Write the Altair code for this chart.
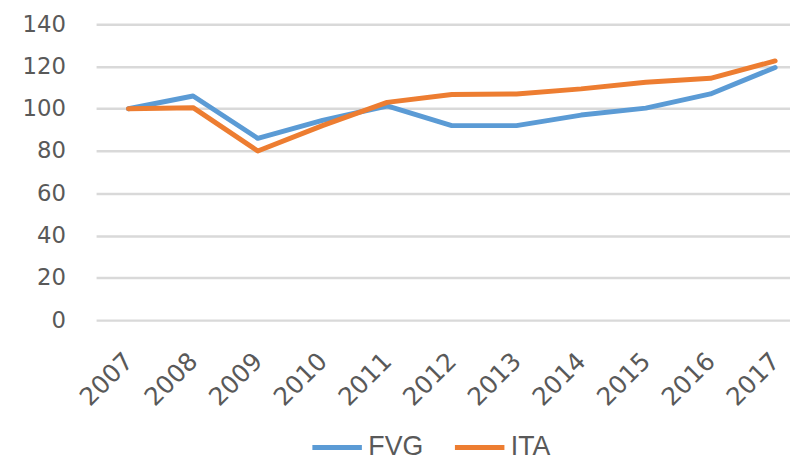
import altair as alt
import pandas as pd

years = [2007, 2008, 2009, 2010, 2011, 2012, 2013, 2014, 2015, 2016, 2017]
fvg = [100, 106, 86, 94.5, 101.3, 92, 92, 97, 100.3, 107, 119.5]
ita = [100, 100.5, 80, 92, 103, 106.7, 107, 109.4, 112.5, 114.4, 122.6]
series_names = ["FVG", "ITA"]
series_colors = ["#5B9BD5", "#ED7D31"]
y_ticks = [0, 20, 40, 60, 80, 100, 120, 140]

rows = []
for name, vals in zip(series_names, [fvg, ita]):
    for yr, v in zip(years, vals):
        rows.append({"year": yr, "value": v, "series": name})
df = pd.DataFrame(rows)

font = "DejaVu Sans"
gray = "#595959"

chart = alt.Chart(df).mark_line(strokeWidth=5, strokeCap="round", strokeJoin="round").encode(
    x=alt.X("year:Q",
            scale=alt.Scale(domain=[2006.5, 2017.23], nice=False, zero=False),
            axis=alt.Axis(values=years, format="d", title=None, grid=False, ticks=False,
                          domain=False, labelAngle=-45, labelFontSize=25, labelFont=font,
                          labelColor=gray, labelPadding=37, labelOverlap=False,
                          labelAlign="right", labelBaseline="middle")),
    y=alt.Y("value:Q",
            scale=alt.Scale(domain=[0, 140], nice=False),
            axis=alt.Axis(values=y_ticks, title=None, grid=True, gridColor="#D9D9D9",
                          gridWidth=2.5, ticks=False, domain=False, labelFontSize=23,
                          labelFont=font, labelColor=gray, labelPadding=31)),
    color=alt.Color("series:N",
                    scale=alt.Scale(domain=series_names, range=series_colors),
                    legend=alt.Legend(title=None, orient="none", direction="horizontal",
                                      legendX=216, legendY=400, symbolType="stroke",
                                      symbolStrokeWidth=5, symbolSize=2500,
                                      labelFont="Liberation Sans", labelFontSize=27,
                                      labelColor=gray, columnPadding=21, labelOffset=4)),
).properties(
    width=701, height=299,
    autosize=alt.AutoSizeParams(type="none"),
    padding={"left": 89, "top": 14, "right": 0, "bottom": 142},
    background="white",
).configure_view(stroke=None)

chart.save("out.html", embed_options={"renderer": "svg", "actions": False})
